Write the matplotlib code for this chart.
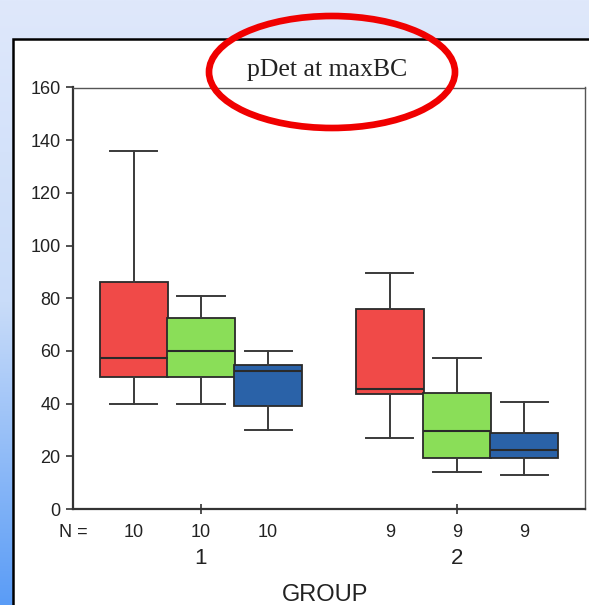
import numpy as np
import matplotlib
matplotlib.use('Agg')
import matplotlib.pyplot as plt
from matplotlib.patches import Rectangle, Ellipse
from matplotlib.colors import LinearSegmentedColormap
import matplotlib.transforms as mtransforms

# box statistics per group: (whislo, q1, med, q3, whishi)
group_labels = ['1', '2']
series_colors = ['#f04a48', '#8ade58', '#2a62a8']
n_counts = [10, 10, 10, 9, 9, 9]
whislo = [40, 40, 30, 27, 14, 13]
q1 = [50, 50, 39, 43.5, 19.5, 19.5]
med = [57.5, 60, 52.5, 45.5, 29.5, 22.5]
q3 = [86, 72.5, 54.5, 76, 44, 29]
whishi = [136, 81, 60, 89.5, 57.5, 40.5]
yticks = [0, 20, 40, 60, 80, 100, 120, 140, 160]

W, H = 589, 605
fig = plt.figure(figsize=(W / 100, H / 100), dpi=100)

# slide background: vertical gradient with a white panel on top
bg = fig.add_axes([0, 0, 1, 1], zorder=-2)
bg.set_xlim(0, W)
bg.set_ylim(H, 0)
bg.axis('off')
cmap = LinearSegmentedColormap.from_list('slide', ['#dfe8fb', '#c9dcf9', '#5a9cf6'])
grad = np.linspace(0, 1, 256).reshape(-1, 1)
bg.imshow(grad, cmap=cmap, extent=[0, W, H, 0], aspect='auto')
bg.add_patch(Rectangle((13, 39), W, H, facecolor='white', edgecolor='black', linewidth=1.8))

ax = fig.add_axes([73 / W, 1 - 509 / H, (585 - 73) / W, (509 - 87.5) / H])
ax.set_facecolor('none')

offsets = [-0.262, 0.0, 0.262]
positions = []
colors = []
for gi in range(len(group_labels)):
    for si in range(3):
        positions.append(gi + 1 + offsets[si])
        colors.append(series_colors[si])

stats = []
for i in range(len(positions)):
    stats.append({'whislo': whislo[i], 'q1': q1[i], 'med': med[i],
                  'q3': q3[i], 'whishi': whishi[i], 'fliers': []})

bp = ax.bxp(stats, positions=positions, widths=0.266, patch_artist=True,
            showfliers=False, capwidths=0.184,
            boxprops=dict(edgecolor='#2a2a2a', linewidth=1.3),
            medianprops=dict(color='#2a2a2a', linewidth=1.5),
            whiskerprops=dict(color='#3a3a3a', linewidth=1.4),
            capprops=dict(color='#3a3a3a', linewidth=1.4))
for patch, c in zip(bp['boxes'], colors):
    patch.set_facecolor(c)

txt = '#222222'
ax.set_xlim(0.5, 2.5)
ax.set_ylim(0, 160)
ax.set_yticks(yticks)
ax.set_yticklabels([str(v) for v in yticks], fontsize=13, family='Liberation Sans', color=txt)
ax.set_xticks([1, 2])
ax.set_xticklabels([])
ax.tick_params(axis='y', direction='out', length=5, width=1.2, color='#333333', pad=4)
ax.tick_params(axis='x', direction='inout', length=7, width=1.2, color='#333333')
for side in ['left', 'bottom']:
    ax.spines[side].set_linewidth(1.6)
    ax.spines[side].set_color('#333333')
for side in ['top', 'right']:
    ax.spines[side].set_linewidth(1.0)
    ax.spines[side].set_color('#555555')

trans = mtransforms.blended_transform_factory(ax.transData, ax.transAxes)
for x, n in zip(positions, n_counts):
    ax.text(x, -0.055, str(n), transform=trans, ha='center', va='center',
            fontsize=13, family='Liberation Sans', color=txt)
ax.text(0.445, -0.055, 'N =', transform=trans, ha='left', va='center',
        fontsize=13, family='Liberation Sans', color=txt)
for gi, lab in enumerate(group_labels):
    ax.text(gi + 1, -0.117, lab, transform=trans, ha='center', va='center',
            fontsize=16, family='Liberation Sans', color=txt)

fig.text(325 / W, 1 - 595 / H, 'GROUP', ha='center', va='center',
         fontsize=17, family='Liberation Sans', color=txt)
fig.text(327 / W, 1 - 76 / H, 'pDet at maxBC', ha='center', va='baseline',
         fontsize=18.5, family='Liberation Serif', color=txt)

# red highlight ring around the title
top = fig.add_axes([0, 0, 1, 1], zorder=5)
top.set_xlim(0, W)
top.set_ylim(H, 0)
top.axis('off')
top.add_patch(Ellipse((332, 72), 246, 112, fill=False, edgecolor='#f00000', linewidth=4.8))

fig.savefig('out.png', dpi=100)
